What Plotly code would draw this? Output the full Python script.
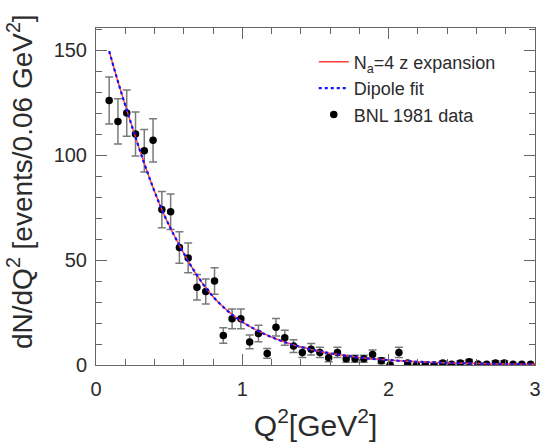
import plotly.graph_objects as go

# BNL 1981 data (bin centres, events per 0.06 GeV^2)
q2_data = [0.09, 0.15, 0.21, 0.27, 0.33, 0.39, 0.45, 0.51, 0.57, 0.63,
           0.69, 0.75, 0.81, 0.87, 0.93, 0.99, 1.05, 1.11, 1.17, 1.23,
           1.29, 1.35, 1.41, 1.47, 1.53, 1.59, 1.65, 1.71, 1.77, 1.83,
           1.89, 1.95, 2.01, 2.07, 2.13, 2.19, 2.25, 2.31, 2.37, 2.43,
           2.49, 2.55, 2.61, 2.67, 2.73, 2.79, 2.85, 2.91, 2.97]
events = [126, 116, 120, 110, 102, 107, 74, 73, 56, 51,
          37, 35, 40, 14, 22, 22, 11, 15, 5.5, 18,
          13, 9, 6, 7.5, 6, 3.5, 6, 3, 3, 3,
          5, 2, 0, 6, 1, 0, 0, 0, 1, 0.3,
          1, 1.6, 0.5, 0.3, 1, 1, 0.3, 0.3, 0.3]
errors = [11.2, 10.8, 11.0, 10.5, 10.1, 10.3, 8.6, 8.5, 7.5, 7.1,
          6.1, 5.9, 6.3, 3.7, 4.7, 4.7, 3.3, 3.9, 2.3, 4.2,
          3.6, 3.0, 2.4, 2.7, 2.4, 1.9, 2.4, 1.7, 1.7, 1.7,
          2.2, 1.4, 0, 2.4, 1.0, 0, 0, 0, 1.0, 0,
          1.0, 1.0, 0, 0, 1.0, 1.0, 0, 0, 0]

# fitted curves
q2_curve = [0.09, 0.15, 0.21, 0.27, 0.33, 0.39, 0.45, 0.51, 0.57, 0.63,
            0.69, 0.75, 0.81, 0.87, 0.93, 0.99, 1.05, 1.15, 1.25, 1.35,
            1.45, 1.55, 1.65, 1.75, 1.85, 1.95, 2.1, 2.3, 2.5, 2.7, 2.9, 3.0]
z_expansion = [149.5, 135, 121.5, 108.5, 96, 84.5, 74, 65, 57, 49.5,
               42.7, 36.8, 31.8, 27.6, 24, 21, 18.4, 14.8, 11.9, 9.6,
               7.7, 6.2, 5.0, 4.0, 3.2, 2.6, 1.9, 1.25, 0.85, 0.58, 0.4, 0.33]
dipole = [149.5, 135, 121.5, 108.5, 96, 84.5, 74, 65, 57, 49.5,
          42.7, 36.8, 31.8, 27.6, 24, 21, 18.4, 14.8, 11.9, 9.6,
          7.7, 6.2, 5.0, 4.0, 3.2, 2.6, 1.9, 1.25, 0.85, 0.58, 0.4, 0.33]

FONT = "Liberation Sans, Arial, Helvetica, sans-serif"
TXT = "#2b2b2b"
AX = "#666666"

fig = go.Figure()
fig.add_trace(go.Scatter(
    x=q2_data, y=events, mode="markers", name="BNL 1981 data",
    marker=dict(color="black", size=7.5),
    error_y=dict(type="data", array=errors, color="#7a7a7a",
                 thickness=1.5, width=4),
    legendrank=3))
fig.add_trace(go.Scatter(
    x=q2_curve, y=z_expansion, mode="lines", name="N<sub>a</sub>=4 z expansion",
    line=dict(color="#ff3b3b", width=1.4, shape="spline"), legendrank=1))
fig.add_trace(go.Scatter(
    x=q2_curve, y=dipole, mode="lines", name="Dipole fit",
    line=dict(color="#1010ff", width=2.2, dash="dot", shape="spline"),
    legendrank=2))

axis_common = dict(
    showline=True, linecolor=AX, linewidth=1, mirror="allticks",
    ticks="inside", tickcolor=AX, ticklen=11, tickwidth=1,
    showgrid=False, zeroline=False, automargin=False,
    tickfont=dict(family=FONT, size=20, color=TXT),
)

fig.update_xaxes(
    range=[0, 3], dtick=1, tick0=0, ticklabelstandoff=6,
    minor=dict(dtick=0.2, ticks="inside", ticklen=6, tickcolor=AX,
               showgrid=False),
    title=dict(text="Q<sup>2</sup>[GeV<sup>2</sup>]",
               font=dict(family=FONT, size=30, color=TXT), standoff=15),
    **axis_common)
fig.update_yaxes(
    range=[0, 160.5], dtick=50, tick0=0, ticklabelstandoff=4,
    minor=dict(dtick=10, ticks="inside", ticklen=6, tickcolor=AX,
               showgrid=False),
    **axis_common)

# y-axis title placed as a rotated annotation to match the original position
fig.add_annotation(
    text="dN/dQ<sup>2</sup> [events/0.06 GeV<sup>2</sup>]",
    xref="paper", yref="paper", x=-0.173, y=0.543,
    xanchor="center", yanchor="middle", textangle=-90, showarrow=False,
    font=dict(family=FONT, size=28, color=TXT))

fig.update_layout(
    width=542, height=443,
    margin=dict(l=96, r=7, t=28, b=78),
    paper_bgcolor="white", plot_bgcolor="white",
    showlegend=True,
    legend=dict(x=0.496, y=0.954, xanchor="left", yanchor="top",
                bgcolor="rgba(0,0,0,0)", tracegroupgap=0,
                font=dict(family=FONT, size=18, color=TXT),
                itemwidth=30),
)

fig.write_html("out.html",
               config={"displayModeBar": False},
               post_script="document.body.style.margin='0px';"
                           "document.body.style.overflow='hidden';")
